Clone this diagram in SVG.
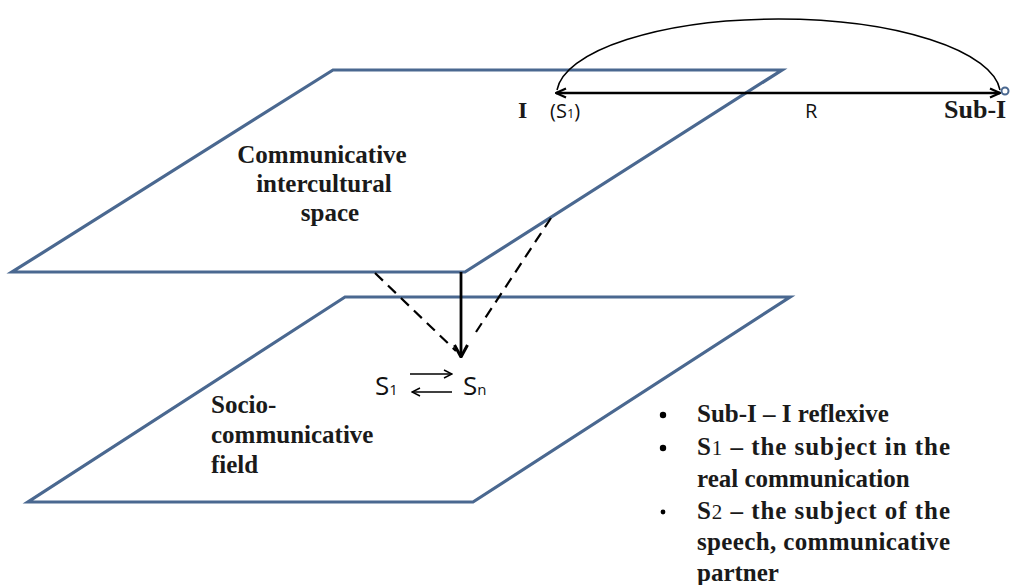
<svg xmlns="http://www.w3.org/2000/svg" width="1013" height="585" viewBox="0 0 1013 585">
<style>
.plane{fill:none;stroke:#4a6890;stroke-width:3.2;stroke-linejoin:miter}
.serif{font-family:"Liberation Serif","Times New Roman",serif;font-weight:bold;fill:#1a1a1a}
.sans{font-family:"Open Sans","Liberation Sans",sans-serif;fill:#111}
.line{fill:none;stroke:#000}
</style>
<defs>
<marker id="vhead" markerUnits="userSpaceOnUse" viewBox="0 0 12 12" refX="11" refY="6" markerWidth="12" markerHeight="12" orient="auto-start-reverse">
<path d="M1,1.5 L11,6 L1,10.5" fill="none" stroke="#000" stroke-width="2.2"/>
</marker>
<marker id="bighead" markerUnits="userSpaceOnUse" viewBox="0 0 14 16" refX="13" refY="8" markerWidth="14" markerHeight="16" orient="auto">
<path d="M1,1.5 L13,8 L1,14.5" fill="none" stroke="#000" stroke-width="3"/>
</marker>
<marker id="thinhead" markerUnits="userSpaceOnUse" viewBox="0 0 10 10" refX="9" refY="5" markerWidth="10" markerHeight="10" orient="auto">
<path d="M1,1 L9,5 L1,9" fill="none" stroke="#000" stroke-width="1.5"/>
</marker>
</defs>
<rect width="1013" height="585" fill="#fff"/>

<g id="socio-communicative-field">
<polygon class="plane" points="345,297 790,297 473,502 28,502"/>
<text class="serif" font-size="25" x="211" y="413">Socio-</text>
<text class="serif" font-size="25" x="211" y="443">communicative</text>
<text class="serif" font-size="25" x="211" y="473">field</text>
</g>

<g id="communicative-intercultural-space">
<polygon class="plane" points="333,70 782,70 465,272 12,272"/>
<text class="serif" font-size="25" text-anchor="middle" x="322" y="163">Communicative</text>
<text class="serif" font-size="25" text-anchor="middle" x="324" y="192">intercultural</text>
<text class="serif" font-size="25" text-anchor="middle" x="330" y="221">space</text>
</g>

<g id="connectors">
<line class="line" x1="375" y1="273" x2="456" y2="351" stroke-width="2.2" stroke-dasharray="11,7"/>
<line class="line" x1="551" y1="218" x2="476" y2="332" stroke-width="2.2" stroke-dasharray="11,7"/>
<line class="line" x1="461" y1="272" x2="461" y2="357" stroke-width="2.8" marker-end="url(#bighead)"/>
<line class="line" x1="556" y1="93" x2="1000" y2="93" stroke-width="2.5" marker-start="url(#vhead)" marker-end="url(#vhead)"/>
<path class="line" d="M1000,90 A222,76 0 0 0 557,90" stroke-width="1.5"/>
<line class="line" x1="410" y1="374" x2="452" y2="374" stroke-width="1.6" marker-end="url(#thinhead)"/>
<line class="line" x1="452" y1="392" x2="412" y2="392" stroke-width="1.6" marker-end="url(#thinhead)"/>
</g>

<g id="reflexive-relation">
<circle cx="1005" cy="91" r="3.5" fill="#fff" stroke="#4a6890" stroke-width="2"/>
<text class="serif" font-size="24" x="518" y="118">I</text>
<text class="sans" font-size="20" x="550" y="118">(S<tspan font-size="13">1</tspan>)</text>
<text class="sans" font-size="20" x="805" y="118">R</text>
<text class="serif" font-size="26" x="944" y="118">Sub-I</text>
</g>

<g id="subjects">
<text class="sans" font-size="26" x="375" y="395">S<tspan font-size="15">1</tspan></text>
<text class="sans" font-size="26" x="463" y="395">S<tspan font-size="15">n</tspan></text>
</g>

<g id="legend">
<circle cx="663" cy="415" r="3.2" fill="#000"/>
<circle cx="663" cy="448" r="3.2" fill="#000"/>
<circle cx="663" cy="512" r="2.4" fill="#000"/>
<text class="serif" font-size="25" x="697" y="422">Sub-I – I reflexive</text>
<text class="serif" font-size="25" x="697" y="455" textLength="253" lengthAdjust="spacing">S<tspan font-size="21" font-weight="normal">1</tspan> – the subject in the</text>
<text class="serif" font-size="25" x="697" y="487">real communication</text>
<text class="serif" font-size="25" x="697" y="519" textLength="253" lengthAdjust="spacing">S<tspan font-size="21" font-weight="normal">2</tspan> – the subject of the</text>
<text class="serif" font-size="25" x="697" y="550" textLength="253" lengthAdjust="spacing">speech, communicative</text>
<text class="serif" font-size="25" x="697" y="581">partner</text>
</g>
</svg>
